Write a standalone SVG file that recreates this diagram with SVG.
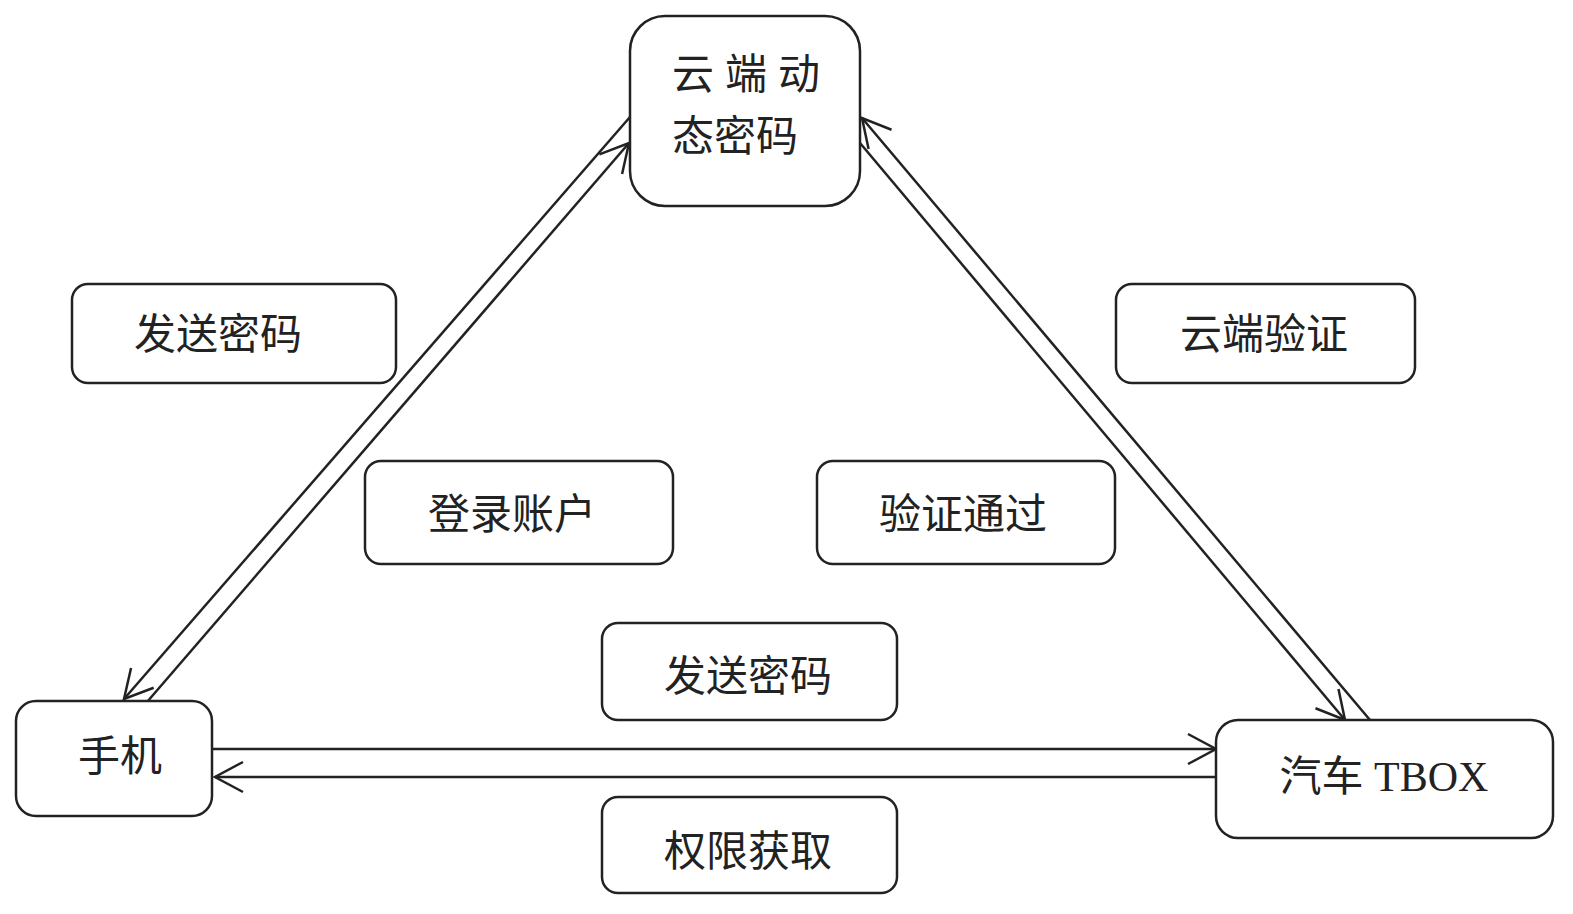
<svg xmlns="http://www.w3.org/2000/svg" width="1573" height="914" viewBox="0 0 1573 914">
<style>
.box{fill:#fff;stroke:#222;stroke-width:2.5}
.t{font-family:"Liberation Serif","Noto Sans CJK SC",serif;font-size:42px;fill:#222;text-anchor:middle;dominant-baseline:central}
.c{fill:none;stroke:#222;stroke-width:2.5}
</style>
<defs>
<marker id="arr" markerUnits="userSpaceOnUse" markerWidth="40" markerHeight="40" viewBox="-32 -20 36 40" refX="0" refY="0" orient="auto">
<path d="M -28 -15 L 0 0 L -28 15" fill="none" stroke="#222" stroke-width="2.5"/>
</marker>
</defs>
<rect width="1573" height="914" fill="#fff"/>
<g id="connectors">
<line class="c" x1="630" y1="117" x2="124" y2="699" marker-end="url(#arr)"/>
<line class="c" x1="147" y1="702" x2="629" y2="143" marker-end="url(#arr)"/>
<line class="c" x1="1370" y1="720" x2="862" y2="118" marker-end="url(#arr)"/>
<line class="c" x1="860" y1="143" x2="1345" y2="720" marker-end="url(#arr)"/>
<line class="c" x1="213" y1="749" x2="1216" y2="749" marker-end="url(#arr)"/>
<line class="c" x1="1216" y1="777" x2="215" y2="777" marker-end="url(#arr)"/>
</g>
<g id="cloud">
<rect class="box" x="630" y="16" width="230" height="190" rx="35"/>
<text class="t" x="672" y="75" style="text-anchor:start;letter-spacing:11px">云端动</text>
<text class="t" x="672" y="137" style="text-anchor:start">态密码</text>
</g>
<g id="phone">
<rect class="box" x="16" y="701" width="196" height="115" rx="20"/>
<text class="t" x="120" y="757">手机</text>
</g>
<g id="tbox">
<rect class="box" x="1216" y="720" width="337" height="118" rx="22"/>
<text class="t" x="1384" y="777">汽车 TBOX</text>
</g>
<g id="label-send1">
<rect class="box" x="72" y="284" width="324" height="99" rx="16"/>
<text class="t" x="218" y="335">发送密码</text>
</g>
<g id="label-cloudverify">
<rect class="box" x="1116" y="284" width="299" height="99" rx="16"/>
<text class="t" x="1264" y="335">云端验证</text>
</g>
<g id="label-login">
<rect class="box" x="365" y="461" width="308" height="103" rx="16"/>
<text class="t" x="512" y="515">登录账户</text>
</g>
<g id="label-pass">
<rect class="box" x="817" y="461" width="298" height="103" rx="16"/>
<text class="t" x="963" y="515">验证通过</text>
</g>
<g id="label-send2">
<rect class="box" x="602" y="623" width="295" height="97" rx="16"/>
<text class="t" x="748" y="677">发送密码</text>
</g>
<g id="label-perm">
<rect class="box" x="602" y="797" width="295" height="96" rx="16"/>
<text class="t" x="748" y="852">权限获取</text>
</g>
</svg>
